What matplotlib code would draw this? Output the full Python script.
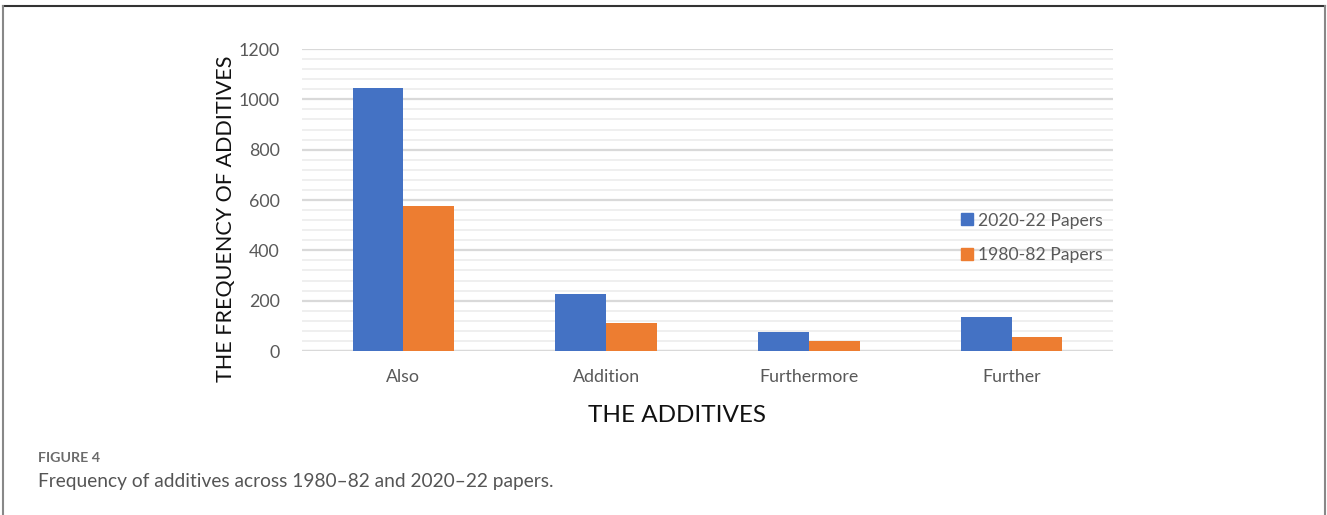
import numpy as np
import matplotlib
matplotlib.use("Agg")
import matplotlib.pyplot as plt
from matplotlib.ticker import MultipleLocator
from matplotlib.lines import Line2D

categories = ["Also", "Addition", "Furthermore", "Further"]
papers_2020 = [1045, 226, 75, 135]
papers_1980 = [578, 111, 40, 56]
series_names = ["2020-22 Papers", "1980-82 Papers"]
y_ticks = [0, 200, 400, 600, 800, 1000, 1200]

blue = "#4472c4"
orange = "#ed7d31"
tick_grey = "#595959"

plt.rcParams["font.family"] = ["Lato", "DejaVu Sans"]

fig = plt.figure(figsize=(13.27, 5.15), dpi=100)
ax = fig.add_axes([0.2276, 0.3184, 0.6111, 0.5864])

x = np.arange(len(categories))
w = 0.25
ax.bar(x - w / 2, papers_2020, w, color=blue, zorder=3)
ax.bar(x + w / 2, papers_1980, w, color=orange, zorder=3)

ax.set_xlim(-0.5, len(categories) - 0.5)
ax.set_ylim(0, 1200)
ax.set_yticks(y_ticks)
ax.yaxis.set_minor_locator(MultipleLocator(40))
ax.grid(axis="y", which="major", color="#d9d9d9", lw=1.6, zorder=0)
ax.grid(axis="y", which="minor", color="#efefef", lw=1.4, zorder=0)
for s in ax.spines.values():
    s.set_visible(False)
ax.axhline(0, color="#d9d9d9", lw=1.6, zorder=2)

ax.set_xticks(x)
ax.set_xticklabels(categories)
ax.tick_params(axis="both", which="both", length=0, labelsize=12.8, labelcolor=tick_grey)
ax.tick_params(axis="x", pad=13)
ax.tick_params(axis="y", pad=16)

ax.set_ylabel("THE FREQUENCY OF ADDITIVES", fontsize=15.5, color="#111111")
ax.yaxis.set_label_coords(-0.081, 0.437)
ax.set_xlabel("THE ADDITIVES", fontsize=17.5, color="#111111")
ax.xaxis.set_label_coords(0.462, -0.178)

handles = [Line2D([], [], marker="s", ls="none", color=c, markersize=9)
           for c in (blue, orange)]
ax.legend(handles, series_names, loc="center left", bbox_to_anchor=(0.79, 0.375),
          frameon=False, fontsize=12.6, labelcolor=tick_grey, labelspacing=1.05,
          handletextpad=0.1, handlelength=1.0)

# card border
fig.add_artist(Line2D([3 / 1327, 1325 / 1327], [1 - 6 / 515, 1 - 6 / 515],
                      transform=fig.transFigure, color="#333333", lw=1.5))
fig.add_artist(Line2D([3 / 1327, 3 / 1327], [0, 1 - 6 / 515],
                      transform=fig.transFigure, color="#888888", lw=1.5))
fig.add_artist(Line2D([1325 / 1327, 1325 / 1327], [0, 1 - 6 / 515],
                      transform=fig.transFigure, color="#888888", lw=1.5))

fig.text(38 / 1327, 1 - 458 / 515, "FIGURE 4", fontsize=10.3, color="#6b6b6b",
         va="center", fontweight="bold")
fig.text(38 / 1327, 1 - 481 / 515, "Frequency of additives across 1980\u201382 and 2020\u201322 papers.",
         fontsize=13.8, color="#555555", va="center")

fig.savefig("out.png", dpi=100)
